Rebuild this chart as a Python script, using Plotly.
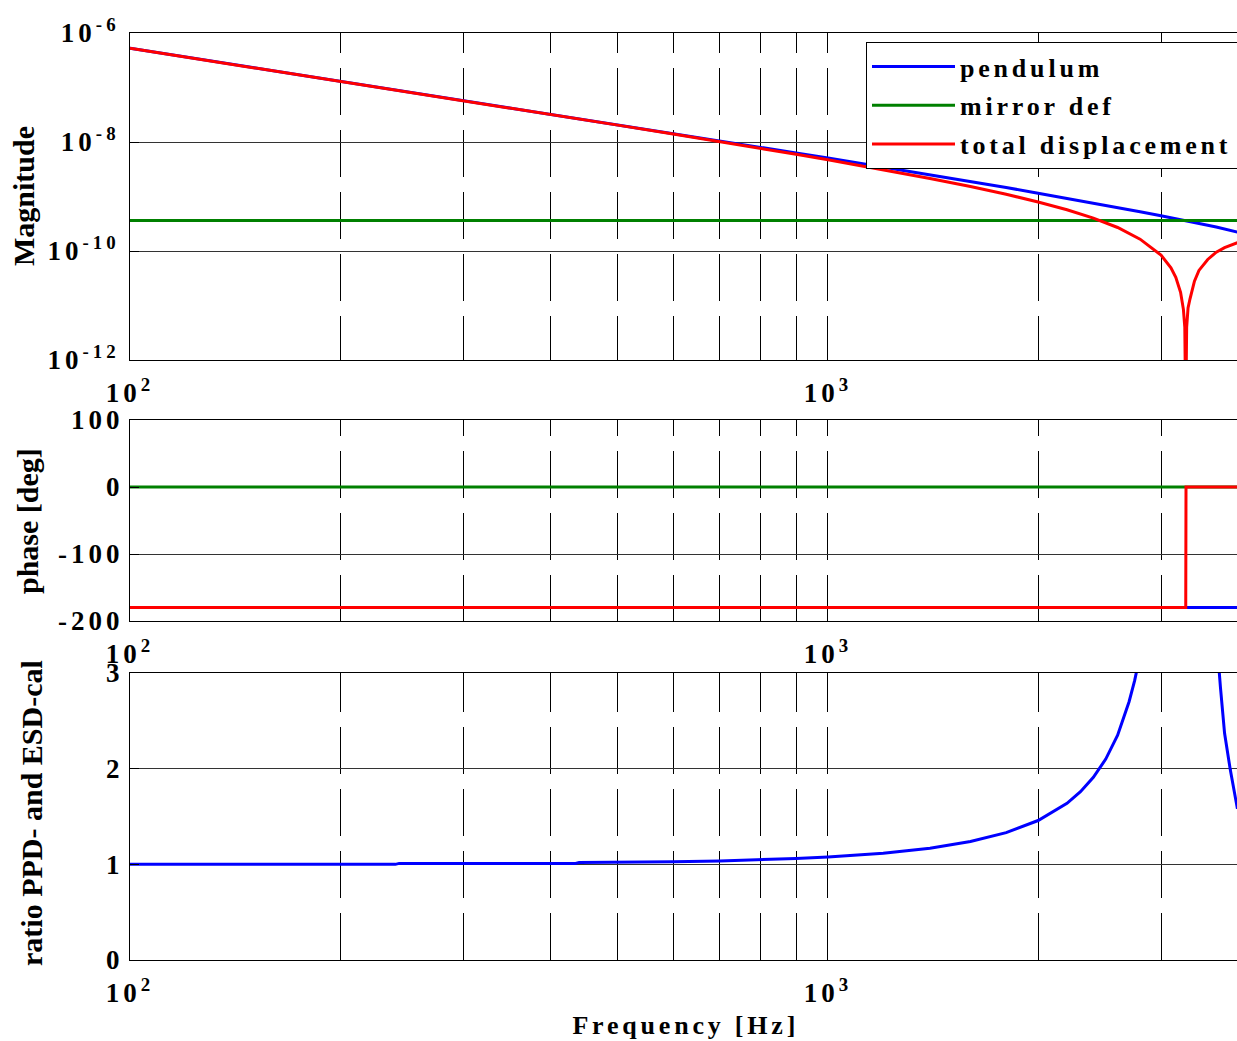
import plotly.graph_objects as go
from plotly.subplots import make_subplots

# ---- magnitude (top panel) ----
pend_freq = [100, 150, 200, 300, 400, 500, 600, 700, 800, 900, 1000, 1200, 1400,
             1600, 1800, 2000, 2200, 2400, 2600, 2800, 3000, 3200, 3400, 3600, 3860]
pend_mag = [5.24e-7, 2.33e-7, 1.31e-7, 5.80e-8, 3.26e-8, 2.08e-8, 1.44e-8, 1.05e-8,
            8.01e-9, 6.30e-9, 5.07e-9, 3.47e-9, 2.51e-9, 1.88e-9, 1.46e-9, 1.15e-9,
            9.3e-10, 7.6e-10, 6.3e-10, 5.27e-10, 4.45e-10, 3.79e-10, 3.22e-10,
            2.76e-10, 2.22e-10]

mirror_freq = [100, 3860]
mirror_mag = [3.62e-10, 3.62e-10]

total_freq = [100, 150, 200, 300, 400, 500, 600, 700, 800, 900, 1000, 1200, 1400,
              1600, 1800, 2000, 2200, 2400, 2600, 2800, 3000, 3100, 3150, 3200, 3230,
              3245, 3255, 3265, 3280, 3300, 3350, 3400, 3500, 3600, 3700, 3860]
total_mag = [5.236e-7, 2.33e-7, 1.31e-7, 5.76e-8, 3.22e-8, 2.04e-8, 1.40e-8, 1.02e-8,
             7.65e-9, 5.94e-9, 4.71e-9, 3.11e-9, 2.14e-9, 1.52e-9, 1.10e-9, 7.9e-10,
             5.7e-10, 4.0e-10, 2.7e-10, 1.65e-10, 8.4e-11, 4.9e-11, 3.3e-11, 1.75e-11,
             8.5e-12, 4e-12, 1e-13, 4e-12, 9e-12, 1.3e-11, 2.8e-11, 4.4e-11, 7.0e-11,
             9.5e-11, 1.15e-10, 1.42e-10]

# ---- phase (middle panel) ----
pend_phase_freq = [100, 3860]
pend_phase = [-180, -180]
mirror_phase_freq = [100, 3860]
mirror_phase = [0, 0]
total_phase_freq = [100, 3255, 3258, 3860]
total_phase = [-180, -180, 0, 0]

# ---- ratio (bottom panel) ----
ratio_freq = [100, 240, 243, 435, 440, 500, 600, 700, 800, 900, 1000, 1200, 1400,
              1600, 1800, 2000, 2200, 2300, 2400, 2500, 2600, 2700, 2750, 2800, 3000,
              3255, 3500, 3550, 3600, 3650, 3700, 3770, 3860]
ratio_val = [1.00, 1.00, 1.01, 1.01, 1.02, 1.02, 1.026, 1.035, 1.047, 1.061, 1.077,
             1.117, 1.169, 1.238, 1.331, 1.458, 1.638, 1.76, 1.91, 2.10, 2.35, 2.70,
             2.92, 3.19, 5.3, 60.0, 5.0, 4.0, 3.4, 2.85, 2.37, 1.99, 1.58]

# ---- axis ticks ----
x_major = [100, 1000]
x_major_text = ["10<sup>2</sup>", "10<sup>3</sup>"]
x_minor = [200, 300, 400, 500, 600, 700, 800, 900, 2000, 3000]
mag_ticks = [1e-12, 1e-10, 1e-8, 1e-6]
mag_tick_text = ["10<sup>-12</sup>", "10<sup>-10</sup>", "10<sup>-8</sup>", "10<sup>-6</sup>"]
phase_ticks = [-200, -100, 0, 100]
phase_tick_text = ["-200", "-100", "0", "100"]
ratio_ticks = [0, 1, 2, 3]
ratio_tick_text = ["0", "1", "2", "3"]

BLUE, GREEN, RED = "#0000ff", "#008000", "#ff0000"
FONT = "Liberation Serif"
W, H = 1237, 1041

fig = make_subplots(rows=3, cols=1)

fig.add_trace(go.Scatter(x=pend_freq, y=pend_mag, mode="lines", name="pendulum",
                         legendgroup="p", line=dict(color=BLUE, width=3)), row=1, col=1)
fig.add_trace(go.Scatter(x=mirror_freq, y=mirror_mag, mode="lines", name="mirror def",
                         legendgroup="m", line=dict(color=GREEN, width=3)), row=1, col=1)
fig.add_trace(go.Scatter(x=total_freq, y=total_mag, mode="lines", name="total displacement",
                         legendgroup="t", line=dict(color=RED, width=3)), row=1, col=1)

fig.add_trace(go.Scatter(x=pend_phase_freq, y=pend_phase, mode="lines", showlegend=False,
                         line=dict(color=BLUE, width=3)), row=2, col=1)
fig.add_trace(go.Scatter(x=mirror_phase_freq, y=mirror_phase, mode="lines", showlegend=False,
                         line=dict(color=GREEN, width=3)), row=2, col=1)
fig.add_trace(go.Scatter(x=total_phase_freq, y=total_phase, mode="lines", showlegend=False,
                         line=dict(color=RED, width=3)), row=2, col=1)

fig.add_trace(go.Scatter(x=ratio_freq, y=ratio_val, mode="lines", showlegend=False,
                         line=dict(color=BLUE, width=3)), row=3, col=1)

tick_font = dict(family=FONT, size=27, color="black", weight="bold")

# dashed frequency grid, phased so that a full dash sits on the bottom edge
grid_dash = {
    1: "20px,15px,47px,15px,47px,15px,47px,15px,47px,15px,47px,40px",
    2: "16px,15px,47px,15px,47px,15px,47px,40px",
    3: "39px,15px,47px,15px,47px,15px,47px,15px,47px,40px",
}

for i in (1, 2, 3):
    fig.update_xaxes(
        type="log", range=[2, 3.586], domain=[130 / W, 1],
        tickvals=x_major, ticktext=x_major_text, tickfont=tick_font,
        showline=True, linecolor="black", linewidth=1, mirror=True,
        ticks="inside", ticklen=9, tickcolor="black",
        showgrid=True, gridcolor="black", gridwidth=1, griddash=grid_dash[i],
        minor=dict(tickvals=x_minor, ticks="inside", ticklen=6, tickcolor="black",
                   showgrid=True, gridcolor="black", gridwidth=1, griddash=grid_dash[i]),
        zeroline=False, ticklabelstandoff=9,
        row=i, col=1,
    )

y_common = dict(
    tickfont=tick_font, showline=True, linecolor="black", linewidth=1, mirror=False,
    ticks="inside", ticklen=9, tickcolor="black",
    showgrid=True, gridcolor="#333333", gridwidth=1, zeroline=False,
)
fig.update_yaxes(**y_common, type="log", range=[-12, -6], tickvals=mag_ticks,
                 ticktext=mag_tick_text, ticklabelstandoff=4,
                 domain=[1 - 360 / H, 1 - 33 / H], row=1, col=1)
fig.update_yaxes(**y_common, range=[-200, 100], tickvals=phase_ticks,
                 ticktext=phase_tick_text, ticklabelstandoff=0,
                 domain=[1 - 621 / H, 1 - 420 / H], row=2, col=1)
fig.update_yaxes(**y_common, range=[0, 3], tickvals=ratio_ticks,
                 ticktext=ratio_tick_text, ticklabelstandoff=0,
                 domain=[1 - 960 / H, 1 - 673 / H], row=3, col=1)

title_font = dict(family=FONT, size=30, color="black", weight="bold")
annotations = [
    dict(text="Magnitude", x=23 / W, y=1 - 196 / H, textangle=-90),
    dict(text="phase [deg]", x=27 / W, y=1 - 521 / H, textangle=-90),
    dict(text="ratio PPD- and ESD-cal", x=31 / W, y=1 - 813 / H, textangle=-90),
]
for a in annotations:
    fig.add_annotation(xref="paper", yref="paper", showarrow=False,
                       xanchor="center", yanchor="middle", font=title_font, **a)
fig.add_annotation(text="Frequency [Hz]", xref="paper", yref="paper", x=686 / W,
                   y=1 - 1025 / H, showarrow=False, xanchor="center", yanchor="middle",
                   font=dict(family=FONT, size=26, color="black", weight="bold"))

fig.update_layout(
    width=W, height=H, template="none",
    paper_bgcolor="white", plot_bgcolor="white",
    margin=dict(l=0, r=0, t=0, b=0),
    showlegend=True,
    legend=dict(x=866 / W, y=1 - 42 / H, xanchor="left", yanchor="top",
                bgcolor="white", bordercolor="black", borderwidth=1,
                itemwidth=83, traceorder="grouped", tracegroupgap=2,
                font=dict(family=FONT, size=26, color="black", weight="bold")),
)

# Widen the text tracking of tick labels, legend entries and the x title,
# then let the legend box run to the right edge of the figure.
post = """
var gd = document.getElementById('{plot_id}');
gd.querySelectorAll('g.xtick text, g.x2tick text, g.x3tick text, g.ytick text, g.y2tick text, g.y3tick text')
  .forEach(function(t){ t.style.letterSpacing = '4px'; });
gd.querySelectorAll('.legendtext').forEach(function(t){ t.style.letterSpacing = '3.8px'; });
gd.querySelectorAll('.annotation-text').forEach(function(t){
  if (t.textContent === 'Frequency [Hz]') { t.style.letterSpacing = '3.8px'; }
});
var lg = gd.querySelector('.legend');
if (lg) {
  var sb = lg.querySelector('.scrollbox');
  if (sb) { sb.removeAttribute('clip-path'); }
  var bg = lg.querySelector('rect.bg');
  if (bg) { bg.setAttribute('width', 480); }
}
"""

fig.write_html("out.html", post_script=post)
